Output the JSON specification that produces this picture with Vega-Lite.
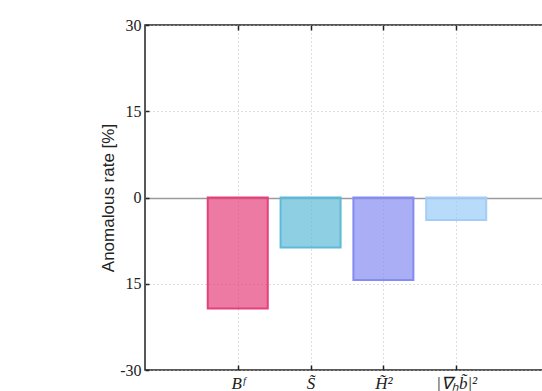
{
  "$schema": "https://vega.github.io/schema/vega-lite/v6.json",
  "width": 398,
  "height": 345,
  "autosize": {"type": "none"},
  "padding": {"left": 145, "top": 25, "right": 0, "bottom": 21},
  "background": "white",
  "config": {"view": {"stroke": "#222", "strokeWidth": 1.5}},
  "data": {
    "values": [
      {"idx": 1, "name": "B_eddy,n^F", "rate": -19.3},
      {"idx": 2, "name": "S~", "rate": -8.7},
      {"idx": 3, "name": "H~^2_MJ", "rate": -14.35},
      {"idx": 4, "name": "|grad_H b~|^2", "rate": -3.9}
    ]
  },
  "layer": [
    {
      "mark": {"type": "bar", "orient": "vertical", "size": 60, "fillOpacity": 0.7, "strokeWidth": 2},
      "encoding": {
        "x": {
          "field": "idx", "type": "quantitative",
          "scale": {"domain": [-0.205, 5.123], "nice": false, "zero": false},
          "axis": {
            "orient": "bottom", "values": [1, 2, 3, 4], "title": null, "domain": false,
            "labelExpr": "datum.value == 1 ? 'B\u1da0' : datum.value == 2 ? 'S\u0303' : datum.value == 3 ? 'H\u0303\u00b2' : '|\u2207\u2095b\u0303|\u00b2'",
            "labelFont": "Liberation Serif", "labelFontStyle": "italic", "labelFontSize": 17, "labelColor": "#222",
            "labelPadding": 10, "tickSize": -5, "tickColor": "#222", "tickWidth": 1.5,
            "grid": true, "gridDash": [1, 3], "gridColor": "#bbb", "gridWidth": 1
          }
        },
        "y": {
          "field": "rate", "type": "quantitative",
          "scale": {"domain": [-30, 30], "nice": false},
          "axis": {
            "values": [-30, -15, 0, 15, 30], "domain": false, "ticks": true,
            "tickSize": -4, "tickColor": "#222", "tickWidth": 1.5,
            "labelExpr": "datum.value == -15 ? '15' : datum.value == -30 ? '-30' : datum.label",
            "labelFont": "Liberation Serif", "labelFontSize": 16, "labelColor": "#222", "labelPadding": 8,
            "title": "Anomalous rate [%]", "titleFont": "Liberation Sans", "titleFontSize": 17,
            "titleFontWeight": "normal", "titleColor": "#222", "titlePadding": 2,
            "grid": true,
            "gridDash": {"condition": {"test": "datum.value === 0", "value": []}, "value": [1, 3]},
            "gridColor": {"condition": {"test": "datum.value === 0", "value": "#9a9a9a"}, "value": "#bbb"},
            "gridWidth": {"condition": {"test": "datum.value === 0", "value": 1.5}, "value": 1}
          }
        },
        "color": {
          "field": "name", "type": "nominal", "legend": null,
          "scale": {"domain": ["B_eddy,n^F", "S~", "H~^2_MJ", "|grad_H b~|^2"], "range": ["#e4417a", "#5ebad7", "#848bf1", "#9bccf8"]}
        },
        "stroke": {
          "field": "name", "type": "nominal", "legend": null,
          "scale": {"domain": ["B_eddy,n^F", "S~", "H~^2_MJ", "|grad_H b~|^2"], "range": ["#e4417a", "#5ebad7", "#848bf1", "#a3cdf7"]}
        }
      }
    },
    {
      "mark": {"type": "tick", "opacity": 0},
      "encoding": {
        "x": {
          "field": "idx", "type": "quantitative",
          "axis": {"orient": "top", "values": [1, 2, 3, 4], "title": null, "labels": false, "domain": false,
                   "grid": false, "tickSize": -5, "tickColor": "#222", "tickWidth": 1.5}
        }
      }
    }
  ],
  "resolve": {"axis": {"x": "independent"}}
}
